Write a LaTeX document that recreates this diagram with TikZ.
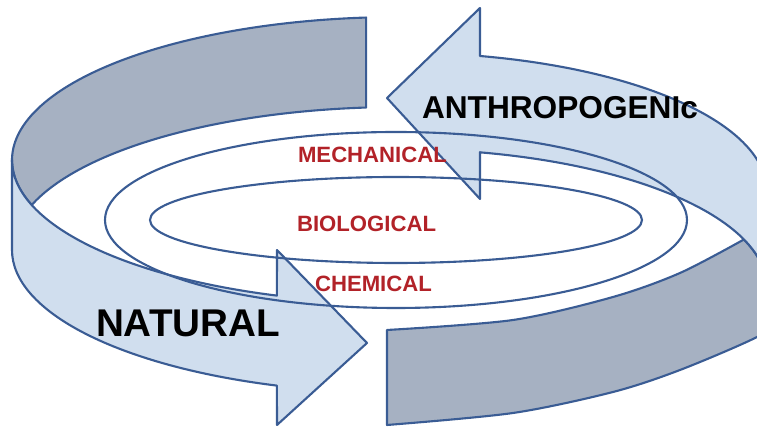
\documentclass[tikz,border=0pt]{standalone}
\usepackage{fontspec}
\setmainfont{Liberation Sans}
\usetikzlibrary{calc}
\definecolor{ringlight}{RGB}{208,222,238}
\definecolor{ringdark}{RGB}{166,177,194}
\definecolor{ringedge}{RGB}{58,92,148}
\definecolor{labelred}{RGB}{178,34,40}

\begin{document}
\begin{tikzpicture}[x=0.1mm, y=-0.1mm, line width=0.6pt, line join=round,
    front/.style={draw=ringedge, fill=ringlight},
    back/.style={draw=ringedge, fill=ringdark},
    level/.style={font=\fontsize{6.3}{7}\selectfont\bfseries, text=labelred, inner sep=0pt, anchor=base west}]

        \useasboundingbox (0,0) rectangle (757,427);
        \clip (0,0) rectangle (757,427);

        % Left ring (natural)
        \coordinate (topc) at (400,160);
        \coordinate (botc) at (400,250);
        \coordinate (natA) at (277,250);
        \coordinate (natTip) at (367,343);
        \coordinate (natB) at (277,425);

        \filldraw[back] ($(topc)+(265:388 and 143)$)
            arc[start angle=265, end angle=161.66, x radius=388, y radius=143]
            arc[start angle=198.34, end angle=265, x radius=388, y radius=143] -- cycle;

        \filldraw[front] ($(topc)+(180:388 and 143)$)
            arc[start angle=180, end angle=108.5, x radius=388, y radius=143]
            -- (natA) -- (natTip) -- (natB)
            -- ($(botc)+(108.5:388 and 143)$)
            arc[start angle=108.5, end angle=180, x radius=388, y radius=143] -- cycle;

        % Right ring (anthropogenic)
        \coordinate (antA) at (480,8);
        \coordinate (antTip) at (387,98);
        \coordinate (antB) at (480,199);

        \filldraw[back] (387,330) -- (387,425)
            -- plot[smooth] coordinates {(387,425) (513,413) (613,392) (680,370) (757,337) (780,318)}
            -- (800,318) -- (800,288) -- (767,288)
            arc[start angle=360, end angle=339.2, x radius=367, y radius=139]
            -- plot[smooth] coordinates {(743,240) (680,273) (613,297) (513,320) (387,330)} -- cycle;

        \filldraw[front] (480,152) -- (antB) -- (antTip) -- (antA) -- (480,56)
            arc[start angle=282.6, end angle=360, x radius=367, y radius=139]
            -- (800,192) -- (800,288) -- (767,288)
            arc[start angle=360, end angle=282.6, x radius=367, y radius=139] -- cycle;

        % Inner cycles
        \draw[ringedge] (396,220) ellipse[x radius=291, y radius=88];
        \draw[ringedge] (396,220) ellipse[x radius=246, y radius=43];

        \node[level] (mech) at (297,163) {MECHANICAL};
        \node[level] (bio) at (296,232) {BIOLOGICAL};
        \node[level] (chem) at (314,292) {CHEMICAL};

        \node[inner sep=0pt, anchor=base west, font=\fontsize{9}{10}\selectfont\bfseries] (anthro) at (421,119) {ANTHROPOGENIc};
        \node[inner sep=0pt, anchor=base west, font=\fontsize{11}{12}\selectfont\bfseries] (natural) at (95,337) {NATURAL};

\end{tikzpicture}
\end{document}
